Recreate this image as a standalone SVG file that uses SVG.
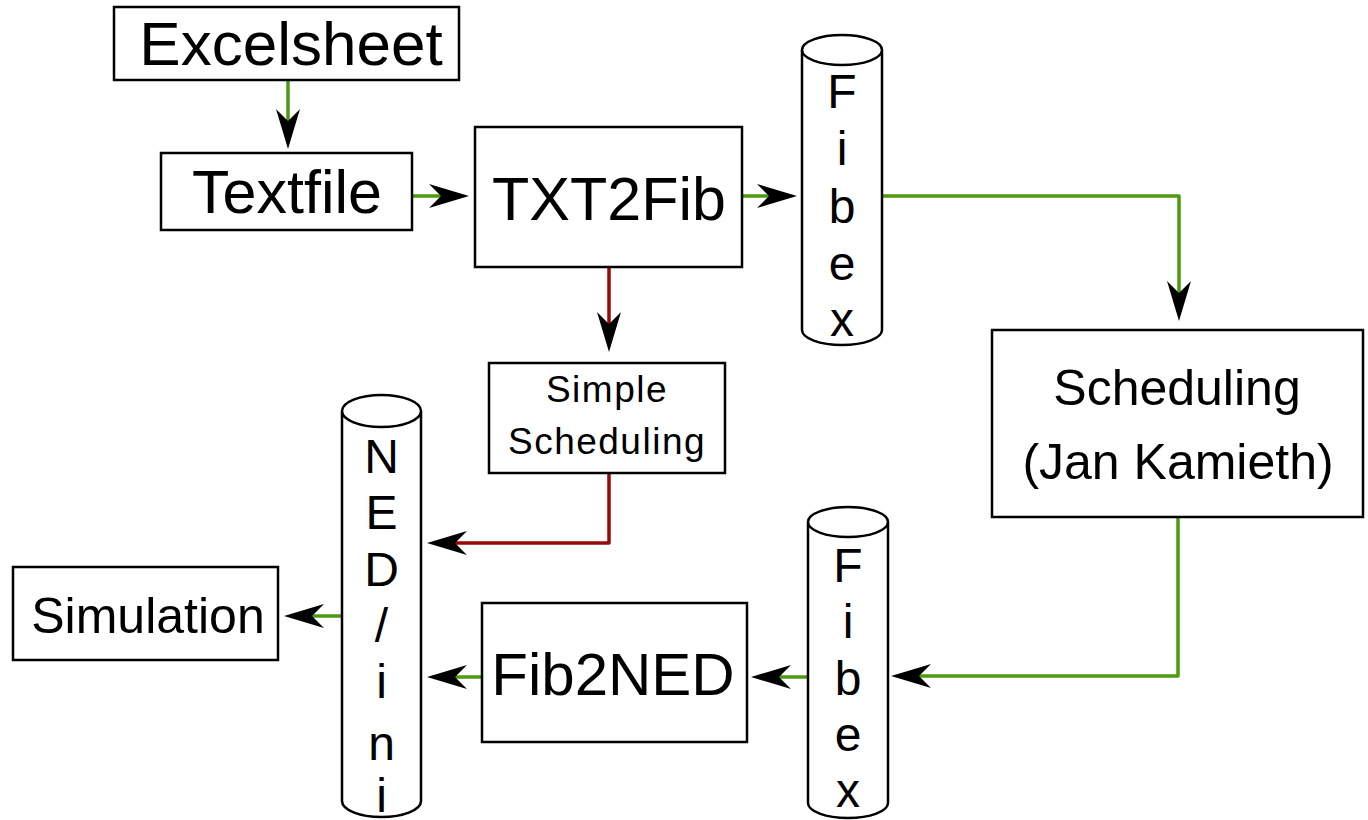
<svg xmlns="http://www.w3.org/2000/svg" width="1368" height="820" viewBox="0 0 1368 820">
<style>
.box{fill:#fff;stroke:#000;stroke-width:2.5}
.cyl{fill:#fff;stroke:#000;stroke-width:2.5}
.t{font-family:"Liberation Sans",Arial,sans-serif;fill:#000;text-anchor:middle}
.g{fill:none;stroke:#4c9a10;stroke-width:3.5;stroke-linejoin:round}
.r{fill:none;stroke:#960a0a;stroke-width:3.5;stroke-linejoin:round}
</style>
<defs>
<marker id="ah" markerUnits="userSpaceOnUse" markerWidth="44" markerHeight="30" refX="14" refY="15" orient="auto" overflow="visible">
<path d="M1,3 L41,15 L1,27 L13,15 Z" fill="#000"/>
</marker>
</defs>
<g id="connectors">
<path class="g" d="M288,81 V122" marker-end="url(#ah)"/>
<path class="g" d="M413,196 H442" marker-end="url(#ah)"/>
<path class="g" d="M742,196 H770" marker-end="url(#ah)"/>
<path class="g" d="M882,196 H1179 V294" marker-end="url(#ah)"/>
<path class="r" d="M609,267 V325" marker-end="url(#ah)"/>
<path class="r" d="M609,473 V543 H454" marker-end="url(#ah)"/>
<path class="g" d="M1178,517 V676 H918" marker-end="url(#ah)"/>
<path class="g" d="M808,677 H778" marker-end="url(#ah)"/>
<path class="g" d="M482,677 H454" marker-end="url(#ah)"/>
<path class="g" d="M342,616 H311" marker-end="url(#ah)"/>
</g>
<g id="excelsheet">
<rect class="box" x="114" y="7" width="345" height="73"/>
<text class="t" x="291" y="65" font-size="62">Excelsheet</text>
</g>
<g id="textfile">
<rect class="box" x="161" y="153" width="251" height="77"/>
<text class="t" x="287" y="213" font-size="61">Textfile</text>
</g>
<g id="txt2fib">
<rect class="box" x="475" y="127" width="267" height="140"/>
<text class="t" x="609" y="220" font-size="61">TXT2Fib</text>
</g>
<g id="fibex-top">
<path class="cyl" d="M802,50 V330 A40,15 0 0 0 882,330 V50"/>
<ellipse class="cyl" cx="842" cy="50" rx="40" ry="15"/>
<text class="t" x="842" font-size="48"><tspan x="842" y="108">F</tspan><tspan x="842" y="165">i</tspan><tspan x="842" y="223">b</tspan><tspan x="842" y="280">e</tspan><tspan x="842" y="336">x</tspan></text>
</g>
<g id="scheduling">
<rect class="box" x="992" y="330" width="371" height="187"/>
<text class="t" x="1177" y="405" font-size="50">Scheduling</text>
<text class="t" x="1178" y="479" font-size="50">(Jan Kamieth)</text>
</g>
<g id="simple-scheduling">
<rect class="box" x="489" y="363" width="236" height="110"/>
<text class="t" x="607" y="402" font-size="37" letter-spacing="1.5">Simple</text>
<text class="t" x="607" y="454" font-size="37" letter-spacing="1.5">Scheduling</text>
</g>
<g id="ned-ini">
<path class="cyl" d="M342,411 V801 A39.5,16 0 0 0 421,801 V411"/>
<ellipse class="cyl" cx="381.5" cy="411" rx="39.5" ry="16"/>
<text class="t" font-size="48"><tspan x="381.5" y="473">N</tspan><tspan x="381.5" y="529">E</tspan><tspan x="381.5" y="586">D</tspan><tspan x="381.5" y="642">/</tspan><tspan x="381.5" y="698">i</tspan><tspan x="381.5" y="760">n</tspan><tspan x="381.5" y="812">i</tspan></text>
</g>
<g id="simulation">
<rect class="box" x="13" y="567" width="265" height="93"/>
<text class="t" x="148" y="633" font-size="50">Simulation</text>
</g>
<g id="fib2ned">
<rect class="box" x="482" y="603" width="265" height="139"/>
<text class="t" x="613" y="695" font-size="60">Fib2NED</text>
</g>
<g id="fibex-bottom">
<path class="cyl" d="M808,522 V803 A40,15 0 0 0 888,803 V522"/>
<ellipse class="cyl" cx="848" cy="522" rx="40" ry="15"/>
<text class="t" font-size="48"><tspan x="848" y="582">F</tspan><tspan x="848" y="638">i</tspan><tspan x="848" y="695">b</tspan><tspan x="848" y="751">e</tspan><tspan x="848" y="807">x</tspan></text>
</g>
</svg>
